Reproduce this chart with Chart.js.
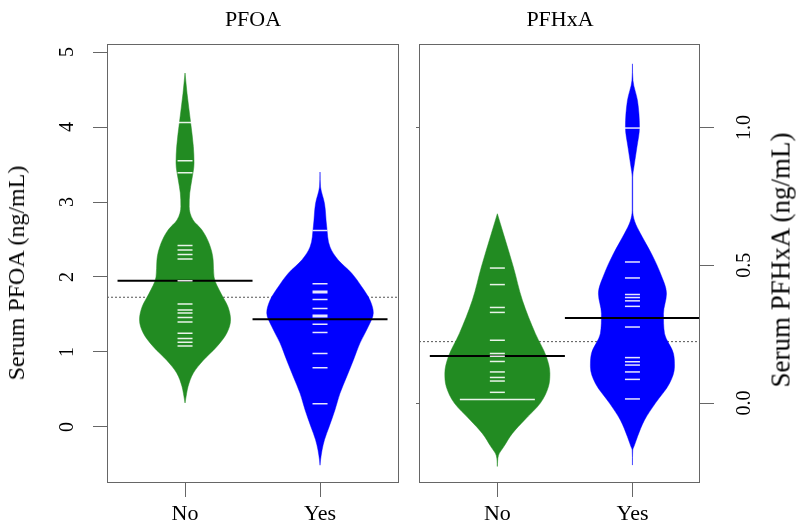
<!DOCTYPE html>
<html>
<head>
<meta charset="utf-8">
<script src="https://cdn.jsdelivr.net/npm/chart.js@4.4.1/dist/chart.umd.min.js"></script>
<style>
  body { margin: 0; background: #fff; }
  #wrap { position: relative; width: 800px; height: 530px; overflow: hidden;
          font-family: "Liberation Serif", "Times New Roman", serif; color: #000; }
  canvas { position: absolute; top: 0; }
  #pfoa { left: 0; }
  #pfhxa { left: 380px; }
  .lbl { position: absolute; white-space: nowrap; transform: translate(-50%, -50%); line-height: 1; }
  .rot { transform: translate(-50%, -50%) rotate(-90deg); }
</style>
</head>
<body>
<div id="wrap">
  <canvas id="pfoa" width="410" height="530"></canvas>
  <canvas id="pfhxa" width="390" height="530"></canvas>
  <div class="lbl" style="left:253px;top:19px;font-size:22px">PFOA</div>
  <div class="lbl" style="left:560px;top:19px;font-size:22px">PFHxA</div>
  <div class="lbl rot" style="left:16px;top:273px;font-size:24px">Serum PFOA (ng/mL)</div>
  <div class="lbl rot" style="left:781px;top:260px;font-size:27px">Serum PFHxA (ng/mL)</div>
</div>
<script>
const groups = ['No', 'Yes'];

// PFOA: bean outlines (serum level, relative density)
const pfoaNoLevels  = [0.32, 0.45, 0.54, 0.72, 0.89, 1.07, 1.25, 1.43, 1.60, 1.78, 2.00, 2.23, 2.45, 2.63, 2.76, 2.94, 3.12, 3.29, 3.52, 3.74, 4.05, 4.45, 4.72];
const pfoaNoDensity = [0, 0.03, 0.056, 0.154, 0.339, 0.587, 0.772, 0.843, 0.796, 0.667, 0.537, 0.52, 0.444, 0.31, 0.148, 0.077, 0.087, 0.124, 0.167, 0.154, 0.105, 0.037, 0];
const pfoaYesLevels  = [-0.51, -0.44, -0.31, -0.17, 0.0, 0.23, 0.45, 0.67, 0.89, 1.12, 1.34, 1.52, 1.69, 1.87, 2.05, 2.23, 2.40, 2.67, 2.98, 3.20, 3.40];
const pfoaYesDensity = [0, 0.01, 0.037, 0.083, 0.167, 0.278, 0.37, 0.494, 0.617, 0.74, 0.894, 0.987, 0.926, 0.772, 0.587, 0.333, 0.185, 0.124, 0.083, 0.01, 0];
// PFOA: single observations (bean lines), group means, overall mean
const pfoaNoObs  = [4.06, 3.55, 3.39, 2.42, 2.36, 2.30, 2.24, 1.95, 1.64, 1.56, 1.52, 1.46, 1.40, 1.25, 1.18, 1.13, 1.08];
const pfoaYesObs = [2.62, 1.91, 1.81, 1.79, 1.70, 1.58, 1.49, 1.47, 1.37, 1.26, 0.98, 0.79, 0.31];
const pfoaMeans = [1.95, 1.435];
const pfoaOverall = 1.73;
const pfoaTicks = [0, 1, 2, 3, 4, 5];
const pfoaTickLabels = ['0', '1', '2', '3', '4', '5'];

// PFHxA
const pfhxaNoLevels  = [-0.23, -0.19, -0.158, -0.11, -0.062, 0.0, 0.059, 0.108, 0.168, 0.252, 0.373, 0.494, 0.615, 0.687];
const pfhxaNoDensity = [0, 0.02, 0.12, 0.278, 0.5, 0.796, 0.944, 0.972, 0.907, 0.704, 0.463, 0.296, 0.111, 0];
const pfhxaYesLevels  = [-0.225, -0.17, -0.158, -0.122, -0.062, 0.0, 0.071, 0.132, 0.18, 0.253, 0.325, 0.397, 0.47, 0.542, 0.615, 0.66, 0.70, 0.82, 0.86, 0.929, 1.001, 1.098, 1.17, 1.231];
const pfhxaYesDensity = [0, 0.005, 0.028, 0.093, 0.222, 0.426, 0.685, 0.778, 0.759, 0.593, 0.574, 0.63, 0.519, 0.352, 0.148, 0.04, 0.005, 0.005, 0.03, 0.083, 0.13, 0.093, 0.01, 0];
const pfhxaNoObs  = [0.49, 0.43, 0.347, 0.329, 0.228, 0.18, 0.17, 0.151, 0.113, 0.093, 0.08, 0.039, 0.013, 0.013, 0.013, 0.013, 0.013];
const pfhxaYesObs = [0.998, 0.512, 0.454, 0.394, 0.383, 0.371, 0.351, 0.276, 0.165, 0.15, 0.138, 0.113, 0.086, 0.015];
const pfhxaMeans = [0.171, 0.309];
const pfhxaOverall = 0.223;
const pfhxaTicks = [0, 0.5, 1.0];
const pfhxaTickLabels = ['0.0', '0.5', '1.0'];

const GREEN = '#228b22', GREEN_EDGE = 'rgba(34,139,34,0.5)';
const BLUE = '#0000ff', BLUE_EDGE = 'rgba(0,0,255,0.45)';
const BEAN_HALF = 0.4;     // widest half-bean, in x units
const LINE_HALF = 7.5;     // half length of one bean line, px
const AXIS_GREY = '#666';

Chart.defaults.font.family = '"Liberation Serif", "Times New Roman", serif';
Chart.defaults.color = '#000';

// a bean = left and right edge, filled between them
function bean(pos, levels, dens, fillColor, edgeColor) {
  const base = {
    indexAxis: 'y', borderColor: edgeColor, borderWidth: 1, pointRadius: 0,
    cubicInterpolationMode: 'monotone', order: 3
  };
  return [
    { ...base, data: levels.map((y, i) => ({ x: pos - BEAN_HALF * dens[i], y })), fill: '+1', backgroundColor: fillColor },
    { ...base, data: levels.map((y, i) => ({ x: pos + BEAN_HALF * dens[i], y })), fill: false }
  ];
}

// short white line per observation, longer where values repeat
function beanLines(pos, obs) {
  const counts = {};
  obs.forEach(v => { counts[v] = (counts[v] || 0) + 1; });
  const vals = Object.keys(counts).map(Number);
  return {
    type: 'scatter', order: 1,
    data: vals.map(v => ({ x: pos, y: v })),
    pointStyle: 'line',
    pointRadius: vals.map(v => LINE_HALF * counts[v]),
    pointHoverRadius: vals.map(v => LINE_HALF * counts[v]),
    pointBorderColor: 'rgba(255,255,255,0.9)',
    pointBorderWidth: 1.5
  };
}

function meanLine(pos, m) {
  return { data: [{ x: pos - 0.5, y: m }, { x: pos + 0.5, y: m }],
           borderColor: '#000', borderWidth: 2, pointRadius: 0, order: 2 };
}

function overallLine(xmin, xmax, m) {
  return { data: [{ x: xmin, y: m }, { x: xmax, y: m }],
           borderColor: '#555', borderWidth: 1, borderDash: [2, 2], pointRadius: 0, order: 4 };
}

const frame = {
  id: 'frame',
  afterDraw(chart) {
    const { ctx, chartArea: a } = chart;
    ctx.save();
    ctx.strokeStyle = AXIS_GREY;
    ctx.lineWidth = 1;
    ctx.strokeRect(Math.round(a.left) + 0.5, Math.round(a.top) + 0.5,
                   Math.round(a.right - a.left) - 1, Math.round(a.bottom - a.top) - 1);
    ctx.restore();
  }
};

function xScale(min, max) {
  return {
    type: 'linear', min, max,
    afterBuildTicks: s => { s.ticks = groups.map((g, i) => ({ value: i + 1 })); },
    afterFit: s => { s.height = 47; },
    ticks: { callback: (v, i) => groups[i], font: { size: 22 }, padding: 4, maxRotation: 0, autoSkip: false },
    grid: { drawOnChartArea: false, tickLength: 14, color: AXIS_GREY },
    border: { display: false }
  };
}

function yScale(position, min, max, ticks, labels, width, padding, fontSize) {
  return {
    type: 'linear', position, min, max,
    afterBuildTicks: s => { s.ticks = ticks.map(v => ({ value: v })); },
    afterFit: s => { s.width = width; },
    ticks: { callback: (v, i) => labels[i], minRotation: 90, maxRotation: 90, crossAlign: 'center',
             padding, font: { size: fontSize }, autoSkip: false },
    grid: { drawOnChartArea: false, tickLength: 14, color: AXIS_GREY },
    border: { display: false }
  };
}

const common = {
  responsive: false, animation: false, events: [],
  plugins: { legend: { display: false }, tooltip: { enabled: false } }
};

// left panel: PFOA
const pfoaX = [0.422, 2.585];
new Chart(document.getElementById('pfoa'), {
  type: 'line',
  data: {
    datasets: [
      beanLines(1, pfoaNoObs), beanLines(2, pfoaYesObs),
      meanLine(1, pfoaMeans[0]), meanLine(2, pfoaMeans[1]),
      ...bean(1, pfoaNoLevels, pfoaNoDensity, GREEN, GREEN_EDGE),
      ...bean(2, pfoaYesLevels, pfoaYesDensity, BLUE, BLUE_EDGE),
      overallLine(pfoaX[0], pfoaX[1], pfoaOverall)
    ]
  },
  options: {
    ...common,
    layout: { padding: { top: 44, right: 11, left: 0, bottom: 0 } },
    scales: {
      x: xScale(pfoaX[0], pfoaX[1]),
      y: yScale('left', -0.747, 5.107, pfoaTicks, pfoaTickLabels, 107, 20, 20)
    }
  },
  plugins: [frame]
});

// right panel: PFHxA, axis on the right
const pfhxaX = [0.42, 2.5];
new Chart(document.getElementById('pfhxa'), {
  type: 'line',
  data: {
    datasets: [
      beanLines(1, pfhxaNoObs), beanLines(2, pfhxaYesObs),
      meanLine(1, pfhxaMeans[0]), meanLine(2, pfhxaMeans[1]),
      ...bean(1, pfhxaNoLevels, pfhxaNoDensity, GREEN, GREEN_EDGE),
      ...bean(2, pfhxaYesLevels, pfhxaYesDensity, BLUE, BLUE_EDGE),
      overallLine(pfhxaX[0], pfhxaX[1], pfhxaOverall)
    ]
  },
  options: {
    ...common,
    layout: { padding: { top: 44, right: 0, left: 0, bottom: 0 } },
    scales: {
      x: xScale(pfhxaX[0], pfhxaX[1]),
      y: yScale('right', -0.29, 1.303, pfhxaTicks, pfhxaTickLabels, 70, 18, 20),
      yl: {
        type: 'linear', position: 'left', min: -0.29, max: 1.303,
        afterBuildTicks: s => { s.ticks = [0, 1].map(v => ({ value: v })); },
        afterFit: s => { s.width = 9; },
        ticks: { display: false },
        grid: { drawOnChartArea: false, tickLength: 3, color: AXIS_GREY },
        border: { display: false }
      }
    }
  },
  plugins: [frame]
});
</script>
</body>
</html>
